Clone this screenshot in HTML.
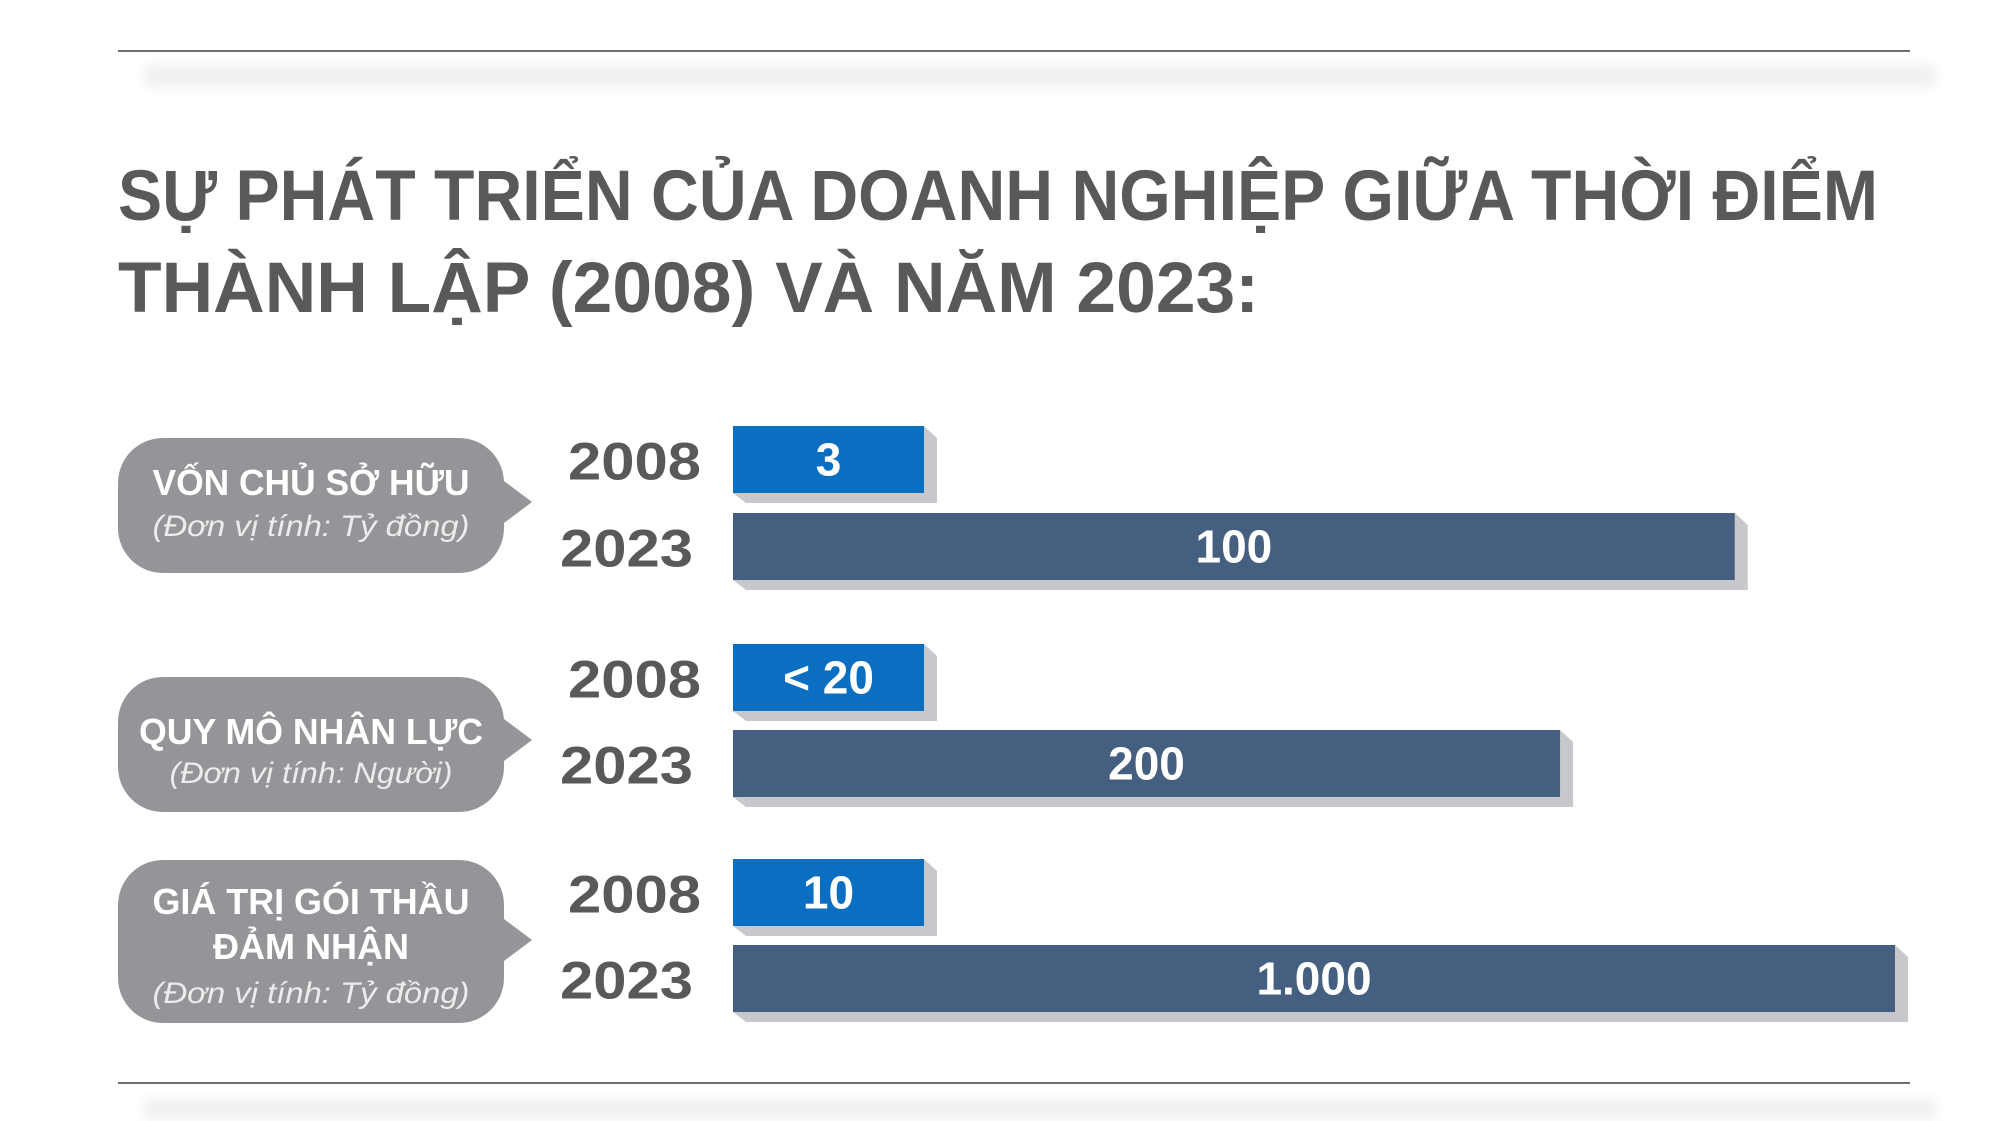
<!DOCTYPE html>
<html><head><meta charset="utf-8"><style>
html,body{margin:0;padding:0;background:#fff;}
svg{display:block;font-family:"Liberation Sans","DejaVu Sans",sans-serif;}
</style></head><body>
<svg id="chart" width="2000" height="1121" viewBox="0 0 2000 1121" xmlns="http://www.w3.org/2000/svg">
<defs>
<filter id="blur" x="-5%" y="-50%" width="110%" height="200%"><feGaussianBlur stdDeviation="6"/></filter>
</defs>
<rect x="145" y="66" width="1790" height="20" fill="#eeeeee" filter="url(#blur)"/>
<line x1="118" y1="51" x2="1910" y2="51" stroke="#6d6e71" stroke-width="2"/>
<text x="118" y="220" font-size="71" font-weight="bold" fill="#58595b" textLength="1760" lengthAdjust="spacingAndGlyphs">SỰ PHÁT TRIỂN CỦA DOANH NGHIỆP GIỮA THỜI ĐIỂM</text>
<text x="118" y="312" font-size="71" font-weight="bold" fill="#58595b" textLength="1141" lengthAdjust="spacingAndGlyphs">THÀNH LẬP (2008) VÀ NĂM 2023:</text>
<g id="bubbles"></g>
<g id="bars"></g>
<rect x="145" y="1100" width="1790" height="18" fill="#eeeeee" filter="url(#blur)"/>
<line x1="118" y1="1083" x2="1910" y2="1083" stroke="#6d6e71" stroke-width="2"/>
</svg>
<script>
const categories = ["Vốn chủ sở hữu", "Quy mô nhân lực", "Giá trị gói thầu đảm nhận"];
const years = ["2008", "2023"];
const values2008 = [3, 20, 10];
const values2023 = [100, 200, 1000];
const labels2008 = ["3", "< 20", "10"];
const labels2023 = ["100", "200", "1.000"];
const domainMax = [116, 281, 1000];

const NS = "http://www.w3.org/2000/svg";
const X0 = 733, FULLW = 1162, MINW = 191, BARH = 67;
const top2008 = [426, 644, 859];
const top2023 = [513, 730, 945];
function xScale(v, g){ return Math.max(MINW, v / domainMax[g] * FULLW); }
function mk(tag, attrs, parent){ const e=document.createElementNS(NS,tag); for(const k in attrs) e.setAttribute(k,attrs[k]); parent.appendChild(e); return e; }

const barsG = document.getElementById("bars");
function drawBar(g, yr, val, label, y){
  const w = xScale(val, g), x1 = X0 + w, y1 = y + BARH;
  const sh = mk("polygon", {points:`${x1},${y} ${x1+13},${y+12} ${x1+13},${y1+10} ${X0+13},${y1+10} ${X0},${y1}`, fill:"#c6c8cb"}, barsG);
  
  
  const r = mk("rect", {x:X0, y:y, width:w, height:BARH, fill: yr==="2008" ? "#0b6fc1" : "#455f80"}, barsG);
  
  
  const t = mk("text", {x:X0 + w/2, y:y + BARH/2 + 16, "text-anchor":"middle", "font-size":46, "font-weight":"bold", fill:"#fff"}, barsG);
  t.textContent = label;
  
  
  const yl = mk("text", {x: yr==="2008" ? 568 : 560, y: y + BARH/2 + 20, "font-size":53, "font-weight":"bold", fill:"#58595b", textLength:133, lengthAdjust:"spacingAndGlyphs"}, barsG);
  yl.textContent = yr;
  
  
}
for (let g=0; g<categories.length; g++){
  drawBar(g, years[0], values2008[g], labels2008[g], top2008[g]);
  drawBar(g, years[1], values2023[g], labels2023[g], top2023[g]);
}

const bubG = document.getElementById("bubbles");
const bubbles = [
  {y0:438,y1:573,py:502,lines:[["VỐN CHỦ SỞ HỮU",495,317,false],["(Đơn vị tính: Tỷ đồng)",536,317,true]]},
  {y0:677,y1:812,py:740,lines:[["QUY MÔ NHÂN LỰC",744,344,false],["(Đơn vị tính: Người)",783,283,true]]},
  {y0:860,y1:1023,py:940,lines:[["GIÁ TRỊ GÓI THẦU",914,317,false],["ĐẢM NHẬN",959,196,false],["(Đơn vị tính: Tỷ đồng)",1003,317,true]]}
];
bubbles.forEach((b,i)=>{
  const r = mk("rect",{x:118,y:b.y0,width:386,height:b.y1-b.y0,rx:45,ry:45,fill:"#939598"},bubG);
  
  
  const p = mk("polygon",{points:`500,${b.py-24} 532,${b.py} 500,${b.py+24}`,fill:"#939598"},bubG);
  
  
  b.lines.forEach((l,j)=>{
    const t = mk("text",{x:311,y:l[1],"text-anchor":"middle","font-size":l[3]?30:36,"font-weight":l[3]?"normal":"bold","font-style":l[3]?"italic":"normal",fill:l[3]?"#ececec":"#ffffff",textLength:l[2],lengthAdjust:"spacingAndGlyphs"},bubG);
    t.textContent = l[0];
    
    
  });
});
</script>
</body></html>
